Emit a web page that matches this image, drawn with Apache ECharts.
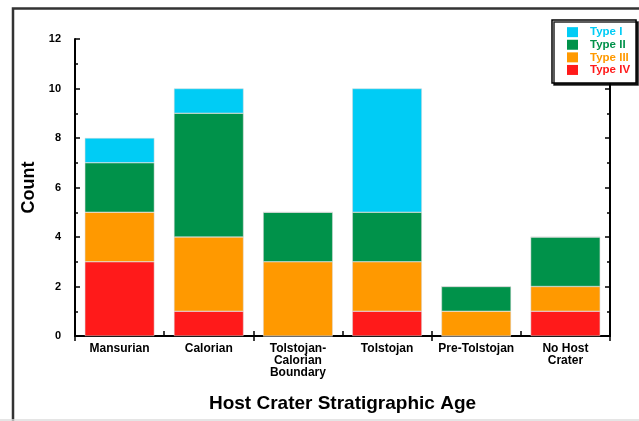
<!DOCTYPE html>
<html>
<head>
<meta charset="utf-8">
<script src="https://cdn.jsdelivr.net/npm/echarts@6/dist/echarts.min.js"></script>
<style>
  html, body { margin: 0; padding: 0; background: #fff; }
  #chart { width: 639px; height: 421px; }
</style>
</head>
<body>
<div id="chart"></div>
<script>
// host crater ages
const categories = ['Mansurian', 'Calorian', 'Tolstojan-\nCalorian\nBoundary', 'Tolstojan', 'Pre-Tolstojan', 'No Host\nCrater'];
const typeIV = [3, 1, 0, 1, 0, 1];
const typeIII = [2, 3, 3, 2, 1, 1];
const typeII = [2, 5, 2, 2, 1, 2];
const typeI = [1, 1, 0, 5, 0, 0];
const yTicks = [0, 2, 4, 6, 8, 10, 12];

const colors = {
  'Type I': '#00CCF5',
  'Type II': '#00924A',
  'Type III': '#FF9900',
  'Type IV': '#FF1A1A'
};

const font = 'Liberation Sans, Arial, sans-serif';
const chart = echarts.init(document.getElementById('chart'));

function bar(name, data) {
  return {
    name: name,
    type: 'bar',
    stack: 'count',
    data: data,
    barWidth: '78%',
    itemStyle: { color: colors[name], borderColor: '#d8d8d8', borderWidth: 0.5 },
    emphasis: { disabled: true }
  };
}

const axisLine = { show: true, lineStyle: { color: '#000', width: 2 } };

// colour each legend label like its swatch
const rich = {};
Object.keys(colors).forEach(function (n) {
  rich[n.replace(/ /g, '')] = { color: colors[n], fontWeight: 'bold', fontSize: 11.5, height: 12.3, lineHeight: 12.3 };
});

chart.setOption({
  animation: false,
  textStyle: { fontFamily: font },
  grid: { left: 75, right: 29, top: 39, bottom: 85, outerBoundsMode: 'none' },
  graphic: [
    { type: 'polyline', shape: { points: [[13, 421], [13, 8.5], [639, 8.5]] }, style: { stroke: '#333', lineWidth: 2.5, fill: null } },
    { type: 'line', shape: { x1: 0, y1: 420, x2: 639, y2: 420 }, style: { stroke: '#ddd', lineWidth: 1.5 } }
  ],
  legend: {
    data: ['Type I', 'Type II', 'Type III', 'Type IV'],
    orient: 'vertical',
    left: 552,
    top: 20,
    padding: [6, 6, 7, 15],
    itemWidth: 11,
    itemHeight: 10,
    itemGap: 0.3,
    backgroundColor: '#fff',
    borderColor: '#000',
    borderWidth: 1.5,
    shadowColor: 'rgba(0,0,0,0.85)',
    shadowOffsetX: 2,
    shadowOffsetY: 2,
    shadowBlur: 0,
    icon: 'rect',
    itemStyle: { borderWidth: 0 },
    selectedMode: false,
    textStyle: {
      fontWeight: 'bold',
      fontSize: 11.5,
      height: 12.3,
      lineHeight: 12.3,
      padding: [0, 0, 0, 7],
      rich: rich
    },
    formatter: function (n) { return '{' + n.replace(/ /g, '') + '|' + n + '}'; }
  },
  xAxis: [
    {
      type: 'category',
      data: categories,
      position: 'bottom',
      axisLine: axisLine,
      axisTick: { show: true, inside: true, length: 5, lineStyle: { width: 1.5 } },
      axisLabel: { color: '#000', fontWeight: 'bold', fontSize: 12, lineHeight: 12, margin: 7, interval: 0 },
      name: 'Host Crater Stratigraphic Age',
      nameLocation: 'middle',
      nameGap: 58,
      nameTextStyle: { color: '#000', fontWeight: 'bold', fontSize: 19 }
    },
    {
      type: 'category',
      data: categories,
      position: 'top',
      axisLine: axisLine,
      axisTick: { show: true, inside: true, length: 5, lineStyle: { width: 1.5 } },
      axisLabel: { show: false }
    }
  ],
  yAxis: [
    {
      type: 'value',
      min: yTicks[0],
      max: yTicks[yTicks.length - 1],
      interval: 2,
      position: 'left',
      axisLine: axisLine,
      axisTick: { show: true, inside: true, length: 5, lineStyle: { width: 1.5 } },
      minorTick: { show: true, splitNumber: 2, length: 3, lineStyle: { color: '#000', width: 1.5 } },
      splitLine: { show: false },
      axisLabel: { color: '#000', fontWeight: 'bold', fontSize: 11, margin: 14 },
      name: 'Count',
      nameLocation: 'middle',
      nameGap: 36,
      nameTextStyle: { color: '#000', fontWeight: 'bold', fontSize: 18 }
    },
    {
      type: 'value',
      min: yTicks[0],
      max: yTicks[yTicks.length - 1],
      interval: 2,
      position: 'right',
      axisLine: axisLine,
      axisTick: { show: true, inside: true, length: 5, lineStyle: { width: 1.5 } },
      minorTick: { show: true, splitNumber: 2, length: 3, lineStyle: { color: '#000', width: 1.5 } },
      splitLine: { show: false },
      axisLabel: { show: false }
    }
  ],
  series: [
    bar('Type IV', typeIV),
    bar('Type III', typeIII),
    bar('Type II', typeII),
    bar('Type I', typeI)
  ]
});
</script>
</body>
</html>
